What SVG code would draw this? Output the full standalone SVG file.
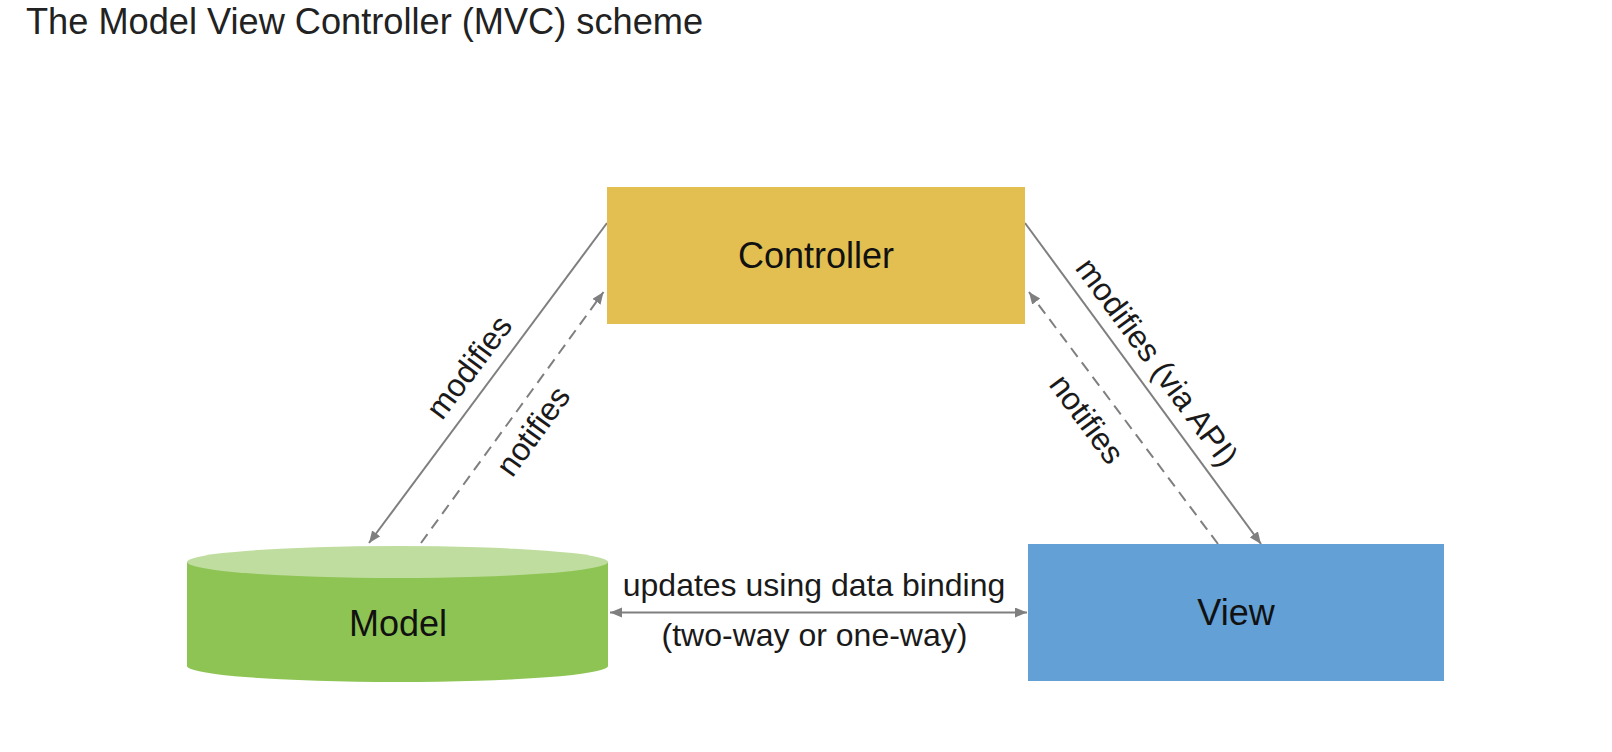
<svg xmlns="http://www.w3.org/2000/svg" width="1612" height="752" viewBox="0 0 1612 752">
<defs>
<marker id="arr" markerUnits="userSpaceOnUse" markerWidth="13" markerHeight="11" refX="12" refY="5" orient="auto-start-reverse">
<path d="M0,0 L12,5 L0,10 z" fill="#7f7f7f"/>
</marker>
</defs>
<style>
text{font-family:"Liberation Sans",Arial,sans-serif;fill:#111;}
.title{font-size:36.2px;fill:#222;}
.node{font-size:36px;text-anchor:middle;}
.lbl{font-size:32px;text-anchor:middle;fill:#1a1a1a;}
.ln{stroke:#7f7f7f;stroke-width:2;fill:none;}
.dash{stroke-dasharray:11 7;}
</style>
<rect width="1612" height="752" fill="#ffffff"/>
<text class="title" x="26" y="34">The Model View Controller (MVC) scheme</text>
<g id="connectors">
<line class="ln" x1="607" y1="223" x2="369" y2="543" marker-end="url(#arr)"/>
<line class="ln dash" x1="421" y1="543" x2="603.5" y2="292" marker-end="url(#arr)"/>
<line class="ln" x1="1025" y1="223" x2="1261" y2="544" marker-end="url(#arr)"/>
<line class="ln dash" x1="1218" y1="544" x2="1029" y2="292" marker-end="url(#arr)"/>
<line class="ln" x1="610" y1="612.5" x2="1027" y2="612.5" marker-start="url(#arr)" marker-end="url(#arr)"/>
<text class="lbl" transform="translate(469,367) rotate(-53.1)" y="11">modifies</text>
<text class="lbl" transform="translate(533,431) rotate(-54.2)" y="11">notifies</text>
<text class="lbl" transform="translate(1157,362) rotate(53.6)" y="11">modifies (via API)</text>
<text class="lbl" transform="translate(1087,419) rotate(53.5)" y="11">notifies</text>
<text class="lbl" x="814" y="596">updates using data binding</text>
<text class="lbl" x="814.5" y="646">(two-way or one-way)</text>
</g>
<g id="controller">
<rect x="607" y="187" width="418" height="137" fill="#e3bf52"/>
<text class="node" x="816" y="268">Controller</text>
</g>
<g id="model">
<path d="M187,562 L187,666 A210.5,16 0 0 0 608,666 L608,562 Z" fill="#8ec454"/>
<ellipse cx="397.5" cy="562" rx="210.5" ry="16" fill="#bfdd9e"/>
<text class="node" x="398" y="636">Model</text>
</g>
<g id="view">
<rect x="1028" y="544" width="416" height="137" fill="#62a0d5"/>
<text class="node" x="1236" y="625">View</text>
</g>
</svg>
